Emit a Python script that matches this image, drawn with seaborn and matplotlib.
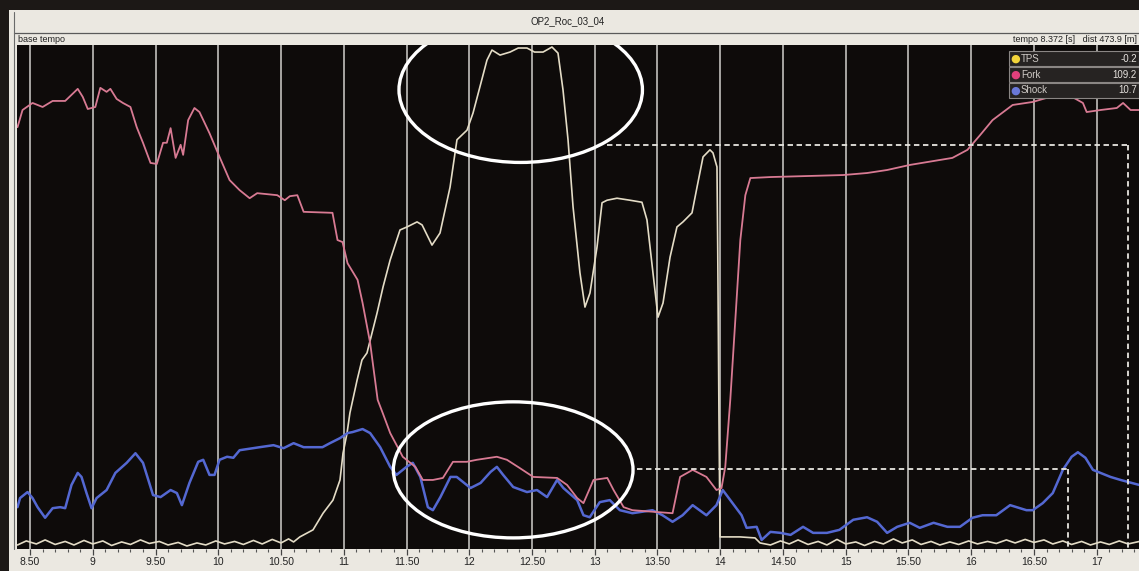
import numpy as np
import pandas as pd
import matplotlib
matplotlib.use("Agg")
import matplotlib.pyplot as plt
from matplotlib.patches import Ellipse, Rectangle
from matplotlib.lines import Line2D
import seaborn as sns

# ---------------- data (time in s, value in % of full scale) ----------------
fork_t = [8.40, 8.44, 8.52, 8.60, 8.68, 8.78, 8.88, 8.92, 8.96, 9.02, 9.06, 9.11, 9.14, 9.19, 9.24,
          9.30, 9.35, 9.40, 9.46, 9.51, 9.56, 9.59, 9.62, 9.66, 9.70, 9.72, 9.76, 9.81, 9.85, 9.93,
          10.01, 10.09, 10.17, 10.25, 10.31, 10.47, 10.53, 10.57, 10.63, 10.68, 10.91, 10.95, 10.99,
          11.03, 11.11, 11.15, 11.21, 11.27, 11.31, 11.37, 11.47, 11.57, 11.63, 11.71, 11.79, 11.87,
          11.98, 12.06, 12.22, 12.30, 12.40, 12.51, 12.70, 12.78, 12.86, 12.91, 12.99, 13.10, 13.15,
          13.23, 13.30, 13.62, 13.68, 13.78, 13.89, 13.97, 14.01, 14.04, 14.08, 14.12, 14.16, 14.20,
          14.24, 14.40, 14.98, 15.17, 15.33, 15.51, 15.85, 15.97, 16.07, 16.17, 16.33, 16.49, 16.60,
          16.79, 16.89, 16.92, 17.03, 17.16, 17.21, 17.27, 17.34]
fork_v = [83.7, 87.1, 88.5, 87.7, 88.9, 88.9, 91.3, 89.7, 87.3, 87.7, 91.5, 90.7, 91.3, 89.3, 88.5,
          87.7, 83.7, 80.6, 76.6, 76.4, 80.6, 80.6, 83.5, 77.6, 80.2, 78.2, 85.1, 87.5, 86.7, 82.5,
          77.8, 73.2, 71.2, 69.6, 70.6, 70.2, 69.2, 70.0, 70.2, 66.9, 66.7, 61.3, 60.9,
          56.7, 53.4, 48.8, 40.9, 29.6, 27.0, 23.0, 18.3, 16.3, 13.7, 13.7, 14.1, 17.3,
          17.3, 17.7, 18.3, 17.7, 16.1, 14.3, 14.1, 12.7, 10.1, 9.1, 13.7, 14.1, 11.7,
          8.3, 7.7, 7.1, 14.3, 15.7, 14.3, 11.7, 12.1, 16.3, 29.6, 45.4, 61.3, 70.2,
          73.6, 73.8, 74.2, 74.6, 75.2, 76.2, 77.6, 79.2, 82.1, 85.1, 88.1, 88.7, 89.5,
          89.9, 88.5, 86.7, 87.1, 87.5, 88.5, 87.1, 87.1]

tps_t = [8.40, 8.47, 8.55, 8.62, 8.70, 8.78, 8.85, 8.93, 9.00, 9.08, 9.15, 9.23, 9.30, 9.38, 9.45,
         9.53, 9.60, 9.68, 9.75, 9.83, 9.90, 9.98, 10.05, 10.13, 10.20, 10.28, 10.35, 10.43, 10.50,
         10.56, 10.60, 10.65, 10.755, 10.835, 10.914, 10.970, 10.994, 11.026, 11.049, 11.106, 11.145,
         11.185, 11.265, 11.313, 11.369, 11.448, 11.504, 11.584, 11.624, 11.703, 11.767, 11.847,
         11.902, 11.982, 12.030, 12.141, 12.181, 12.245, 12.325, 12.39, 12.460, 12.52, 12.588,
         12.659, 12.707, 12.747, 12.787, 12.827, 12.882, 12.922, 12.962, 13.018, 13.058, 13.098,
         13.177, 13.281, 13.376, 13.416, 13.464, 13.504, 13.544, 13.600, 13.655, 13.703, 13.775,
         13.815, 13.863, 13.918, 13.942, 13.974, 13.980, 13.990, 13.998, 14.157, 14.277, 14.317,
         14.40, 14.48, 14.55, 14.62, 14.70, 14.78, 14.85, 14.93, 15.00, 15.08, 15.15, 15.23, 15.30,
         15.38, 15.45, 15.53, 15.60, 15.68, 15.75, 15.83, 15.90, 15.98, 16.05, 16.13, 16.20, 16.28,
         16.35, 16.43, 16.50, 16.58, 16.65, 16.73, 16.80, 16.88, 16.95, 17.03, 17.10, 17.18, 17.25,
         17.34]
tps_v = [0.8, 1.6, 1.0, 1.8, 0.9, 1.5, 0.8, 1.7, 1.0, 1.6, 0.7, 1.4, 0.9, 1.8, 1.1,
         1.5, 0.8, 1.3, 0.6, 1.2, 0.8, 1.6, 1.0, 1.5, 0.9, 1.7, 1.0, 1.9, 1.2,
         2.0, 1.4, 2.4, 3.8, 7.1, 9.7, 13.7, 19.0, 23.0, 27.0, 33.5, 37.5,
         38.9, 46.8, 52.0, 57.3, 63.3, 63.9, 64.9, 64.3, 60.3, 62.7, 71.8,
         81.2, 83.1, 86.5, 97.0, 99.0, 98.0, 98.6, 99.4, 99.4, 98.6, 98.6,
         99.6, 98.4, 91.1, 81.2, 67.9, 54.8, 48.0, 50.8, 59.9, 68.7, 69.2,
         69.6, 69.2, 68.8, 65.3, 54.8, 46.0, 48.8, 57.9, 63.9, 64.9, 66.7,
         71.8, 77.8, 79.2, 78.6, 75.8, 59.3, 25.6, 2.4, 2.4, 2.2, 1.2,
         0.8, 1.6, 1.0, 1.8, 0.9, 1.5, 0.8, 1.9, 1.0, 1.4, 0.7, 1.5, 1.0,
         2.0, 1.2, 1.8, 0.9, 1.5, 0.8, 1.4, 0.9, 1.6, 1.0, 1.5, 1.1, 1.8,
         1.2, 1.9, 1.3, 1.8, 1.0, 1.6, 0.9, 1.5, 0.8, 1.4, 0.9, 1.6, 1.0,
         1.5]

shock_t = [8.40, 8.42, 8.48, 8.52, 8.56, 8.62, 8.68, 8.74, 8.78, 8.83, 8.88, 8.91, 8.95, 8.99, 9.03,
           9.11, 9.18, 9.27, 9.34, 9.40, 9.48, 9.54, 9.62, 9.67, 9.71, 9.77, 9.84, 9.88, 9.93, 9.97,
           10.01, 10.07, 10.12, 10.17, 10.33, 10.44, 10.52, 10.60, 10.68, 10.83, 10.89, 10.97, 11.03,
           11.07, 11.15, 11.21, 11.29, 11.37, 11.42, 11.50, 11.55, 11.61, 11.67, 11.71, 11.77, 11.85,
           11.90, 11.95, 12.01, 12.09, 12.17, 12.22, 12.27, 12.35, 12.46, 12.54, 12.62, 12.70, 12.75,
           12.86, 12.91, 12.96, 13.04, 13.12, 13.20, 13.30, 13.46, 13.54, 13.62, 13.70, 13.78, 13.89,
           13.97, 14.02, 14.08, 14.17, 14.21, 14.29, 14.33, 14.40, 14.48, 14.56, 14.66, 14.74, 14.85,
           14.95, 15.06, 15.17, 15.25, 15.33, 15.41, 15.51, 15.59, 15.70, 15.81, 15.91, 16.01, 16.09,
           16.20, 16.31, 16.44, 16.49, 16.57, 16.65, 16.73, 16.80, 16.85, 16.91, 16.97, 17.11, 17.19,
           17.34]
shock_v = [8.3, 10.1, 11.3, 10.1, 8.3, 6.2, 8.1, 8.3, 8.1, 12.7, 15.1, 14.3, 11.1, 8.1, 10.1,
           11.7, 15.1, 17.1, 19.0, 17.1, 10.7, 10.3, 11.7, 11.1, 8.7, 13.1, 17.3, 17.7, 14.7, 14.7,
           17.7, 18.3, 18.1, 19.6, 20.2, 20.6, 20.0, 21.0, 20.2, 20.2, 21.0, 22.0, 23.0,
           23.2, 23.8, 23.0, 20.2, 16.3, 14.7, 16.3, 17.1, 14.3, 8.3, 7.7, 10.3, 14.3,
           14.3, 13.3, 12.1, 13.1, 15.3, 16.3, 14.7, 12.3, 11.3, 11.7, 10.3, 13.7, 12.1,
           9.7, 6.7, 6.3, 9.3, 9.7, 7.7, 7.1, 7.7, 6.7, 5.4, 6.7, 8.7, 6.7,
           8.7, 11.7, 9.7, 6.7, 4.2, 4.4, 1.8, 3.4, 3.2, 2.8, 4.4, 3.2, 3.2,
           3.8, 5.8, 6.3, 5.4, 3.2, 4.4, 5.2, 4.2, 5.2, 4.4, 4.4, 6.2, 6.7,
           6.7, 8.7, 7.7, 7.7, 9.1, 11.1, 15.7, 18.3, 19.2, 18.1, 15.7, 14.3, 13.7,
           12.7]

tick_pos = [8.5, 9.0, 9.5, 10.0, 10.5, 11.0, 11.5, 12.0, 12.5, 13.0, 13.5, 14.0, 14.5, 15.0,
            15.5, 16.0, 16.5, 17.0]
tick_labels = ["8.50", "9", "9.50", "10", "10.50", "11", "11.50", "12", "12.50", "13", "13.50",
               "14", "14.50", "15", "15.50", "16", "16.50", "17"]

legend_names = ["TPS", "Fork", "Shock"]
legend_values = ["-0.2", "109.2", "10.7"]

title_text = "OP2_Roc_03_04"
left_header = "base tempo"
right_header = "tempo 8.372 [s]   dist 473.9 [m]"

# annotation marks drawn on the screen (time, value)
upper_box = (13.10, 17.25, 80.2)   # x start, x end, y
lower_box = (13.34, 16.77, 15.9)
ellipse_top = (12.41, 91.1, 1.94, 28.8)   # centre t, centre v, width, height
ellipse_bot = (12.35, 15.7, 1.91, 27.0)

# ---------------- styling ----------------
sns.set_style("dark")
plt.rcParams['font.family'] = ['Liberation Sans Narrow', 'Liberation Sans', 'DejaVu Sans']

W, H = 1139, 571
fig = plt.figure(figsize=(W / 100, H / 100), dpi=100, facecolor="#1c1816")

def fx(px):
    return px / W

def fy(py):
    return 1 - py / H

# screen background (light panel) -- behind the axes
bg = Rectangle((fx(9), 0), 1, fy(10), transform=fig.transFigure,
               facecolor="#ebe8e1", edgecolor="none", zorder=-5)
fig.add_artist(bg)
fig.add_artist(Line2D([fx(14), 1], [fy(33), fy(33)], color="#5a5a5a", lw=0.9, zorder=-4))
fig.add_artist(Line2D([fx(14), fx(14)], [fy(12), fy(549)], color="#6a6a6a", lw=0.8, zorder=-4))

ax = fig.add_axes([fx(17), fy(549), 1 - fx(17), (549 - 45) / H])
ax.set_facecolor("#0e0b0a")

# grid
for t in tick_pos:
    ax.axvline(t, color="#b4b2ae", lw=1.3, zorder=1)

df_tps = pd.DataFrame({"t": tps_t, "v": tps_v})
df_fork = pd.DataFrame({"t": fork_t, "v": fork_v})
df_shock = pd.DataFrame({"t": shock_t, "v": shock_v})

sns.lineplot(data=df_tps, x="t", y="v", ax=ax, color="#e4dcc6", lw=1.2, estimator=None, zorder=3)
sns.lineplot(data=df_shock, x="t", y="v", ax=ax, color="#5468d2", lw=1.8, estimator=None, zorder=4)
sns.lineplot(data=df_fork, x="t", y="v", ax=ax, color="#d87a93", lw=1.3, estimator=None, zorder=5)

# dashed marker boxes
for x0, x1, y in (upper_box, lower_box):
    ax.plot([x0, x1], [y, y], ls=(0, (3, 2)), color="#e8e6e0", lw=1.3, zorder=6)
    ax.plot([x1, x1], [y, 0], ls=(0, (3, 2)), color="#e8e6e0", lw=1.3, zorder=6)

for cx, cy, w, h in (ellipse_top, ellipse_bot):
    ax.add_patch(Ellipse((cx, cy), w, h, fill=False, edgecolor="white", lw=2.4, zorder=7))

ax.set_xlim(8.396, 17.337)
ax.set_ylim(0, 100)
ax.set_xticks(tick_pos)
ax.set_xticklabels(tick_labels)
ax.set_xticks(np.arange(8.5, 17.35, 0.1), minor=True)
ax.set_yticks([])
ax.tick_params(axis="x", which="major", direction="out", length=4, width=0.9,
               color="#444444", labelsize=7.5, labelcolor="#222222", pad=2, bottom=True)
ax.tick_params(axis="x", which="minor", direction="out", length=2.5, width=0.8,
               color="#555555", bottom=True)
ax.set_xlabel("")
ax.set_ylabel("")
ax.grid(False)
for s in ax.spines.values():
    s.set_visible(False)

# header texts
fig.text(fx(568), fy(21), title_text, ha="center", va="center", fontsize=7, color="#222222")
fig.text(fx(18), fy(39), left_header, ha="left", va="center", fontsize=6.5, color="#222222")
fig.text(fx(1137), fy(39), right_header, ha="right", va="center", fontsize=6.5, color="#222222")

# legend panel
dot_colors = ["#f2d43a", "#e2407c", "#6a78d8"]
row_tops = [51, 67, 83]
for name, val, col, top in zip(legend_names, legend_values, dot_colors, row_tops):
    fig.add_artist(Rectangle((fx(1009), fy(top + 15)), 1 - fx(1009), 15 / H,
                             transform=fig.transFigure, facecolor="#262322",
                             edgecolor="#8a8684", lw=0.8, zorder=8))
    fig.text(fx(1015), fy(top + 7.5), "\u25CF", color=col, fontsize=8, ha="center",
             va="center", zorder=9, family="DejaVu Sans")
    fig.text(fx(1021), fy(top + 7.5), name, color="#cfcac6", fontsize=7, ha="left",
             va="center", zorder=9)
    fig.text(fx(1137), fy(top + 7.5), val, color="#e6e2de", fontsize=7, ha="right",
             va="center", zorder=9)

fig.savefig("out.png", dpi=100, facecolor=fig.get_facecolor())
